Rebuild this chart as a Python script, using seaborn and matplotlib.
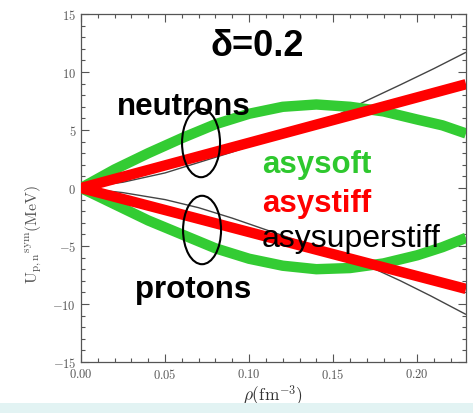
import matplotlib
matplotlib.use("Agg")
import numpy as np
import pandas as pd
import matplotlib.pyplot as plt
import seaborn as sns
from matplotlib.patches import Ellipse, Rectangle
from matplotlib.ticker import MultipleLocator, FixedLocator, FixedFormatter

# ---------------- data ----------------
rho_soft = [0.0, 0.01, 0.02, 0.03, 0.04, 0.06, 0.08, 0.10, 0.12, 0.14, 0.16, 0.18, 0.20, 0.215, 0.229]
soft_neutrons = [0.0, 0.8, 1.6, 2.3, 3.0, 4.3, 5.5, 6.4, 7.0, 7.2, 7.0, 6.6, 5.9, 5.4, 4.7]
soft_protons = [0.0, -0.7, -1.4, -2.1, -2.8, -4.0, -5.2, -6.1, -6.7, -7.0, -6.9, -6.5, -5.8, -5.1, -4.3]

rho_stiff = [0.0, 0.10, 0.229]
stiff_neutrons = [0.0, 3.9, 8.95]
stiff_protons = [0.0, -3.8, -8.7]

rho_super_n = [0.0, 0.025, 0.05, 0.07, 0.09, 0.11, 0.136, 0.15, 0.168, 0.19, 0.21, 0.229]
super_neutrons = [0.0, 0.5, 1.3, 2.2, 3.1, 4.1, 5.3, 6.1, 7.4, 8.9, 10.3, 11.7]
rho_super_p = [0.0, 0.025, 0.05, 0.07, 0.09, 0.11, 0.13, 0.15, 0.172, 0.19, 0.208, 0.229]
super_protons = [0.0, -0.4, -1.0, -1.7, -2.6, -3.6, -4.6, -5.6, -6.8, -8.0, -9.3, -10.9]

xticks = [0.00, 0.05, 0.10, 0.15, 0.20]
xtick_labels = ["$0.00$", "$0.05$", "$0.10$", "$0.15$", "$0.20$"]
yticks = [-15, -10, -5, 0, 5, 10, 15]
ytick_labels = ["$-15$", "$-10$", "$-5$", "$0$", "$5$", "$10$", "$15$"]

# ---------------- style ----------------
sns.set_style("ticks")
plt.rcParams["mathtext.fontset"] = "cm"
plt.rcParams["font.family"] = ["DejaVu Serif"]

GREEN = "#33cc33"
RED = "#ff0000"
GRAY = "#444444"

fig = plt.figure(figsize=(4.73, 4.14), dpi=100)
fig.patch.set_facecolor("white")
ax = fig.add_axes([81 / 473, 1 - 363 / 414, 385 / 473, 348 / 414])

def draw(x, y, color, lw, z):
    df = pd.DataFrame({"rho": x, "U": y})
    sns.lineplot(data=df, x="rho", y="U", ax=ax, color=color, lw=lw,
                 sort=False, estimator=None, zorder=z,
                 solid_capstyle="butt")

# asysuperstiff (thin)
draw(rho_super_n, super_neutrons, GRAY, 1.0, 2)
draw(rho_super_p, super_protons, GRAY, 1.0, 2)
# asysoft
draw(rho_soft, soft_neutrons, GREEN, 7.5, 3)
draw(rho_soft, soft_protons, GREEN, 7.5, 3)
# asystiff
draw(rho_stiff, stiff_neutrons, RED, 7.5, 4)
draw(rho_stiff, stiff_protons, RED, 7.5, 4)

ax.set_xlim(0, 0.229)
ax.set_ylim(-15, 15)

ax.xaxis.set_major_locator(FixedLocator(xticks))
ax.xaxis.set_major_formatter(FixedFormatter(xtick_labels))
ax.yaxis.set_major_locator(FixedLocator(yticks))
ax.yaxis.set_major_formatter(FixedFormatter(ytick_labels))
ax.xaxis.set_minor_locator(MultipleLocator(0.01))
ax.yaxis.set_minor_locator(MultipleLocator(1))
ax.tick_params(which="both", direction="in", top=True, right=True,
               color="#555555", labelcolor="#555555", labelsize=9, width=0.8)
ax.tick_params(which="major", length=6)
ax.tick_params(which="minor", length=3)
for s in ax.spines.values():
    s.set_color("#555555")
    s.set_linewidth(0.9)

ax.set_xlabel(r"$\rho(\mathrm{fm}^{-3})$", fontsize=12.5, color="#333333", labelpad=1)
ax.set_ylabel(r"$\mathrm{U_{p,n}}^{\mathrm{sym}}\mathrm{(MeV)}$", fontsize=11.5,
              color="#555555")
ax.yaxis.set_label_coords(-0.095, 0.37)

# ellipses
for cx, cy in [(0.0714, 3.88), (0.072, -3.62)]:
    ax.add_patch(Ellipse((cx, cy), width=0.0226, height=5.9, fill=False,
                         ec="black", lw=1.5, zorder=6))

sans = ["Liberation Sans", "DejaVu Sans"]
ax.text(0.1048, 12.3, "\u03b4=0.2", ha="center", va="center", fontsize=26,
        fontweight="bold", family=sans, color="black", zorder=7)
ax.text(0.0214, 6.38, "neutrons", ha="left", va="baseline", fontsize=22.5,
        fontweight="bold", family=sans, color="black", zorder=7)
ax.text(0.032, -9.4, "protons", ha="left", va="baseline", fontsize=22.5,
        fontweight="bold", family=sans, color="black", zorder=7)
ax.text(0.1077, 1.38, "asysoft", ha="left", va="baseline", fontsize=22.5,
        fontweight="bold", family=sans, color="#2ec82e", zorder=7)
ax.text(0.1077, -2.0, "asystiff", ha="left", va="baseline", fontsize=22.5,
        fontweight="bold", family=sans, color=RED, zorder=7)
ax.text(0.1077, -5.0, "asysuperstiff", ha="left", va="baseline", fontsize=23,
        fontweight="normal", family=sans, color="black", zorder=7)

# light band at the bottom of the image
fig.patches.append(Rectangle((0, 0), 1, 10 / 414, transform=fig.transFigure,
                             facecolor="#e2f3f3", edgecolor="none", zorder=0))

fig.savefig("out.png", dpi=100)
